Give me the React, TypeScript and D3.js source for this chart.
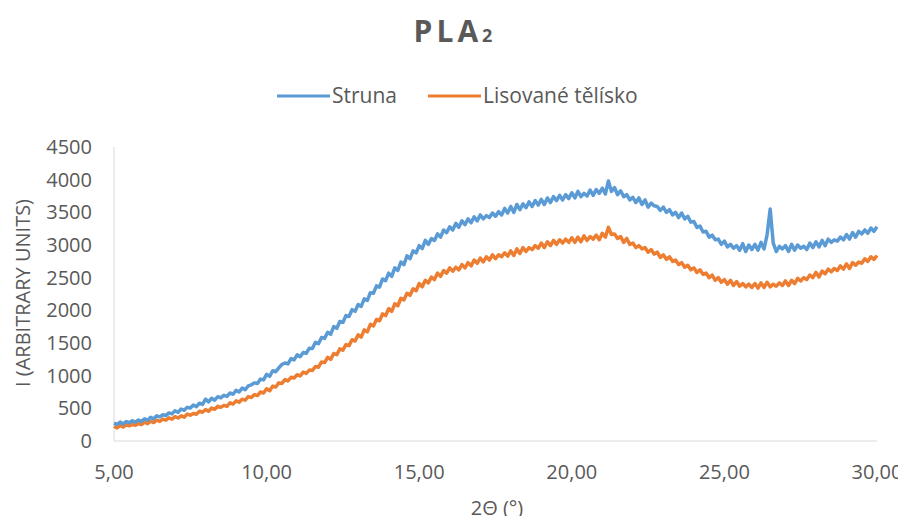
import React, { useRef, useEffect } from "react";
import * as d3 from "d3";

// 2θ grid: 5.0 .. 30.0 step 0.1
const thetaStart = 5;
const thetaStep = 0.1;

// Struna (blue), one row per degree
const struna = [
  275, 255, 290, 262, 298, 280, 310, 288, 322, 300,
  340, 318, 362, 340, 385, 370, 402, 388, 430, 415,
  462, 438, 490, 470, 515, 505, 552, 525, 578, 560,
  640, 600, 655, 625, 678, 660, 700, 682, 735, 715,
  775, 750, 812, 785, 845, 860, 890, 880, 948, 935,
  1020, 990, 1075, 1060, 1120, 1170, 1195, 1180, 1262, 1240,
  1320, 1290, 1355, 1340, 1420, 1415, 1510, 1490, 1585, 1570,
  1665, 1635, 1750, 1725, 1830, 1815, 1920, 1905, 2010, 1985,
  2090, 2060, 2175, 2150, 2270, 2260, 2375, 2355, 2480, 2455,
  2570, 2520, 2650, 2610, 2740, 2700, 2835, 2790, 2910, 2880,
  2990, 2945, 3070, 3010, 3100, 3070, 3170, 3120, 3230, 3190,
  3280, 3230, 3330, 3270, 3370, 3310, 3400, 3340, 3430, 3370,
  3460, 3400, 3450, 3420, 3490, 3440, 3510, 3460, 3560, 3490,
  3590, 3500, 3620, 3540, 3630, 3570, 3660, 3590, 3680, 3610,
  3700, 3620, 3720, 3650, 3740, 3680, 3760, 3690, 3770, 3710,
  3800, 3720, 3820, 3740, 3790, 3750, 3840, 3760, 3850, 3790,
  3870, 3780, 3980, 3820, 3880, 3770, 3830, 3740, 3770, 3690,
  3730, 3650, 3720, 3620, 3690, 3580, 3640, 3600, 3590, 3530,
  3580, 3500, 3540, 3460, 3500, 3420, 3490, 3400, 3440, 3350,
  3360, 3270, 3290, 3200, 3210, 3120, 3150, 3080, 3090, 3010,
  3060, 2970, 3010, 2950, 2990, 2920, 3020, 2900, 3000, 2930,
  3010, 2920, 3040, 2940, 3160, 3550, 3030, 2900, 2980, 2940,
  2990, 2900, 3010, 2920, 3000, 2950, 2980, 2930, 3030, 2960,
  3050, 2970, 3070, 2990, 3090, 3040, 3080, 3060, 3120, 3080,
  3160, 3090, 3190, 3120, 3210, 3170, 3230, 3180, 3260, 3210,
  3280,
];

// Lisované tělísko (orange)
const telisko = [
  225, 200, 240, 215, 248, 232, 255, 240, 268, 252,
  290, 265, 305, 282, 318, 300, 335, 318, 355, 335,
  372, 352, 385, 365, 412, 395, 420, 410, 455, 440,
  480, 455, 505, 485, 530, 515, 545, 530, 585, 565,
  615, 595, 640, 625, 680, 665, 710, 695, 750, 735,
  800, 770, 840, 825, 890, 880, 940, 920, 975, 965,
  1015, 995, 1055, 1035, 1085, 1080, 1140, 1130, 1210, 1200,
  1280, 1250, 1340, 1320, 1410, 1390, 1475, 1460, 1550, 1530,
  1625, 1590, 1700, 1670, 1785, 1760, 1860, 1840, 1945, 1920,
  2025, 1985, 2100, 2070, 2185, 2160, 2260, 2230, 2330, 2300,
  2410, 2360, 2460, 2420, 2510, 2470, 2570, 2520, 2610, 2570,
  2650, 2600, 2660, 2620, 2700, 2650, 2730, 2680, 2770, 2720,
  2800, 2740, 2820, 2770, 2850, 2790, 2850, 2820, 2880, 2830,
  2910, 2840, 2940, 2870, 2960, 2900, 2960, 2930, 2990, 2950,
  3030, 2960, 3050, 2990, 3070, 3010, 3080, 3030, 3090, 3040,
  3110, 3040, 3120, 3050, 3140, 3070, 3130, 3090, 3150, 3080,
  3180, 3120, 3270, 3160, 3170, 3100, 3130, 3040, 3100, 3010,
  3030, 2960, 2990, 2940, 2960, 2890, 2930, 2860, 2890, 2810,
  2850, 2780, 2820, 2750, 2770, 2700, 2730, 2660, 2690, 2620,
  2650, 2580, 2620, 2550, 2570, 2500, 2540, 2460, 2500, 2430,
  2470, 2400, 2460, 2380, 2440, 2370, 2410, 2360, 2400, 2350,
  2410, 2340, 2420, 2350, 2430, 2360, 2400, 2370, 2420, 2380,
  2450, 2380, 2460, 2410, 2490, 2450, 2500, 2470, 2540, 2500,
  2580, 2510, 2600, 2560, 2630, 2590, 2640, 2610, 2680, 2630,
  2710, 2640, 2730, 2690, 2740, 2720, 2790, 2750, 2820, 2780,
  2840,
];

const xTicks = [5, 10, 15, 20, 25, 30];
const yTicks = [0, 500, 1000, 1500, 2000, 2500, 3000, 3500, 4000, 4500];

const seriesNames = ["Struna", "Lisované tělísko"];
const seriesColors = ["#5B9BD5", "#ED7D31"];

const FONT = "'Open Sans', sans-serif";
const TEXT = "#595959";

export const PlaChart = ({ width = 906, height = 520 }) => {
  const d3Container = useRef<SVGSVGElement>(null);

  useEffect(() => {
    const container = d3Container.current;
    if (!container) return;
    const margin = { top: 147, right: 29, bottom: 79, left: 114 };
    const chart_width = width - margin.left - margin.right;
    const chart_height = height - margin.top - margin.bottom;

    // Limpia
    d3.select(container).selectChildren().remove();
    const root = d3.select(container).style("font-family", FONT);

    // Título
    const title = root
      .append("text")
      .attr("x", 453)
      .attr("y", 42)
      .attr("text-anchor", "middle")
      .attr("fill", TEXT)
      .style("font-size", "30px")
      .style("font-weight", "bold")
      .style("letter-spacing", "4px");
    title.append("tspan").text("PLA");
    title.append("tspan").text("2").style("font-size", "18px").style("letter-spacing", "0px");

    // Leyenda
    const legendItems = [
      { name: seriesNames[0], color: seriesColors[0], x: 277 },
      { name: seriesNames[1], color: seriesColors[1], x: 428 },
    ];
    const lg = root.selectAll(".legend").data(legendItems).join("g").attr("class", "legend");
    lg.append("line")
      .attr("x1", (d) => d.x)
      .attr("x2", (d) => d.x + 53)
      .attr("y1", 96)
      .attr("y2", 96)
      .attr("stroke", (d) => d.color)
      .attr("stroke-width", 3);
    lg.append("text")
      .attr("x", (d) => d.x + 55)
      .attr("y", 103)
      .attr("fill", TEXT)
      .style("font-size", "21px")
      .text((d) => d.name);

    const svg = root.append("g").attr("transform", `translate(${margin.left}, ${margin.top})`);

    const x = d3.scaleLinear().domain([5, 30]).range([0, chart_width]);
    const y = d3.scaleLinear().domain([0, 4500]).range([chart_height, 0]);

    // Ejes
    svg.append("line")
      .attr("x1", 0).attr("x2", chart_width)
      .attr("y1", chart_height).attr("y2", chart_height)
      .attr("stroke", "#D9D9D9");
    svg.append("line")
      .attr("x1", 0).attr("x2", 0)
      .attr("y1", 0).attr("y2", chart_height)
      .attr("stroke", "#D9D9D9");

    // Y ticks
    svg.append("g")
      .selectAll("text")
      .data(yTicks)
      .join("text")
      .attr("x", -22)
      .attr("y", (d) => y(d))
      .attr("dy", "0.35em")
      .attr("text-anchor", "end")
      .attr("fill", TEXT)
      .style("font-size", "20px")
      .text((d) => d);

    // X ticks
    svg.append("g")
      .selectAll("text")
      .data(xTicks)
      .join("text")
      .attr("x", (d) => x(d))
      .attr("y", chart_height + 31)
      .attr("dy", "0.35em")
      .attr("text-anchor", "middle")
      .attr("fill", TEXT)
      .style("font-size", "20px")
      .text((d) => d.toFixed(2).replace(".", ","));

    // Rótulos de ejes
    root.append("text")
      .attr("transform", `translate(30, 293) rotate(-90)`)
      .attr("text-anchor", "middle")
      .attr("fill", TEXT)
      .style("font-size", "20px")
      .text("I (ARBITRARY UNITS)");
    root.append("text")
      .attr("x", 497)
      .attr("y", 515)
      .attr("text-anchor", "middle")
      .attr("fill", TEXT)
      .style("font-size", "20px")
      .text("2Θ (°)");

    // Series
    const line = d3
      .line<number>()
      .x((_d, i) => x(thetaStart + i * thetaStep))
      .y((d) => y(d));

    const series = [telisko, struna];
    const colors = [seriesColors[1], seriesColors[0]];
    svg.selectAll(".series")
      .data(series)
      .join("path")
      .attr("class", "series")
      .attr("d", (d) => line(d))
      .attr("fill", "none")
      .attr("stroke", (_d, i) => colors[i])
      .attr("stroke-width", 3.5)
      .attr("stroke-linejoin", "round");
  }, [width, height]);

  return <svg width={width} height={height} ref={d3Container} />;
};

export default function App() {
  return (
    <div style={{ margin: -8 }}>
      <PlaChart />
    </div>
  );
}
